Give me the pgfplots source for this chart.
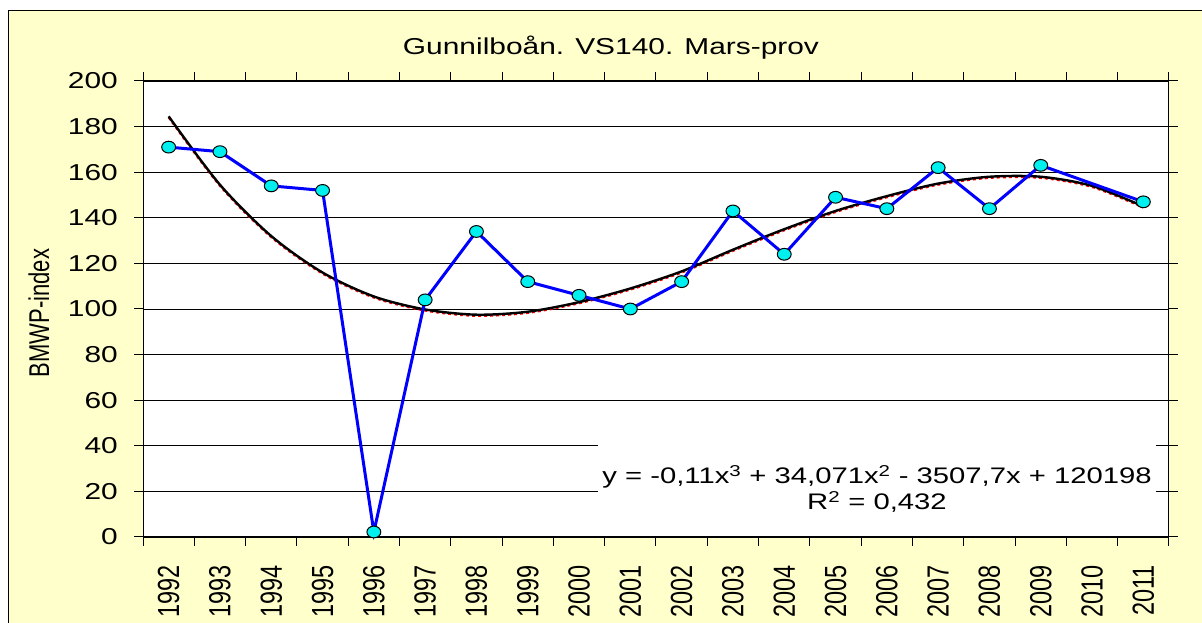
\documentclass[border=0pt]{standalone}
\usepackage{fontspec}
\setmainfont{Liberation Sans}
\newfontfamily\wide[FakeStretch=1.3]{Liberation Sans}
\usepackage{pgfplots}
\pgfplotsset{compat=1.18}
\definecolor{bgy}{RGB}{255,255,204}
\definecolor{mk}{RGB}{0,240,240}
\newcommand{\xl}[1]{\scalebox{1}[1.3]{#1}}
\begin{document}
\begin{tikzpicture}[x=1pt,y=1pt]
\path[use as bounding box] (0,0) rectangle (1202,623);
\fill[white] (0,0) rectangle (1202,623);
\filldraw[fill=bgy, draw=black, line width=1.5pt] (8.5,-5) rectangle (1210,612.5);
\begin{axis}[
 at={(143pt,86pt)}, anchor=south west, scale only axis,
 width=1026pt, height=456pt,
 xmin=1991.5, xmax=2011.5, ymin=0, ymax=200,
 axis background/.style={fill=white},
 axis line style={black, line width=1pt},
 ytick={0,20,...,200},
 ymajorgrids, grid style={black, line width=0.8pt},
 tick align=outside, major tick length=9pt,
 tick style={black, line width=1pt},
 xtick={1991.5,1992.5,...,2011.5}, xticklabel={\mbox{}},
 extra x ticks={1992,1993,1994,1995,1996,1997,1998,1999,2000,2001,2002,2003,2004,2005,2006,2007,2008,2009,2010,2011},
 extra x tick labels={\xl{1992},\xl{1993},\xl{1994},\xl{1995},\xl{1996},\xl{1997},\xl{1998},\xl{1999},\xl{2000},\xl{2001},\xl{2002},\xl{2003},\xl{2004},\xl{2005},\xl{2006},\xl{2007},\xl{2008},\xl{2009},\xl{2010},\xl{2011}},
 extra x tick style={major tick length=0pt, grid=none},
 xticklabel style={rotate=90, anchor=east, inner xsep=28pt, inner ysep=0pt, font=\fontsize{23.5}{23.5}\selectfont},
 yticklabel style={font=\wide\fontsize{23}{23}\selectfont, anchor=east, inner sep=0pt, xshift=-16pt},
 /pgf/number format/assume math mode=true,
 clip=false,
]
\addplot[red, dashed, line width=2pt, smooth, yshift=-1.2pt] coordinates {
(1992,184.5) (1993,154.5) (1994,132) (1995,116) (1996,105.5) (1997,99.8) (1998,97.5) (1999,98.8) (2000,103) (2001,109) (2002,116.5) (2003,126) (2004,135) (2005,143) (2006,149.5) (2007,155) (2008,158) (2009,158) (2010,154) (2011,145)};
\addplot[black, line width=2.4pt, smooth] coordinates {
(1992,184.5) (1993,154.5) (1994,132) (1995,116) (1996,105.5) (1997,99.8) (1998,97.5) (1999,98.8) (2000,103) (2001,109) (2002,116.5) (2003,126) (2004,135) (2005,143) (2006,149.5) (2007,155) (2008,158) (2009,158) (2010,154) (2011,145)};
\addplot[blue, line width=3pt, mark=*, mark size=6.2pt,
  mark options={fill=mk, draw=black, line width=1pt, xscale=1.12, yscale=0.95, solid}] coordinates {
(1992,171) (1993,169) (1994,154) (1995,152) (1996,2.2) (1997,104) (1998,134) (1999,112) (2000,106) (2001,100) (2002,112) (2003,143) (2004,124) (2005,149) (2006,144) (2007,162) (2008,144) (2009,163) (2011,147)};
\end{axis}
\fill[white] (598,91) rectangle (1156,181);
\node[anchor=base, inner sep=0pt, font=\wide\fontsize{22.5}{22.5}\selectfont] at (877,139) {y = -0,11x\textsuperscript{3} + 34,071x\textsuperscript{2} - 3507,7x + 120198};
\node[anchor=base, inner sep=0pt, font=\wide\fontsize{22.5}{22.5}\selectfont] at (877,113) {R\textsuperscript{2} = 0,432};
\node[anchor=base, inner sep=0pt, font=\wide\fontsize{23}{23}\selectfont] at (611,568.7) {Gunnilboån. VS140. Mars-prov};
\node[rotate=90, inner sep=0pt, font=\fontsize{22}{22}\selectfont] at (39,310) {\scalebox{1}[1.3]{BMWP-index}};
\end{tikzpicture}
\end{document}
